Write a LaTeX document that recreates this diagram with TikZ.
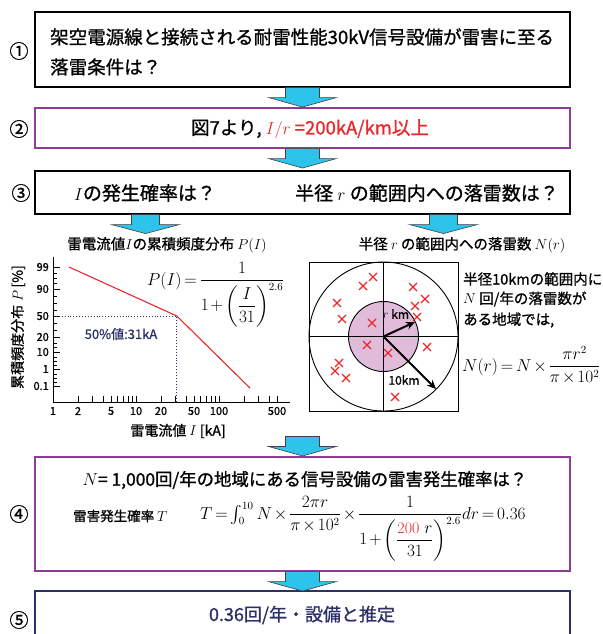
\documentclass[tikz,border=0pt]{standalone}
\usepackage{amsmath}
\usepackage{fontspec}
\newfontfamily\jp[FakeBold=1]{Noto Sans CJK JP}
\usetikzlibrary{calc,arrows.meta}
\definecolor{arrowblue}{HTML}{2EC3EA}
\definecolor{boxpurple}{HTML}{8E3C97}
\definecolor{navyc}{HTML}{2B3068}
\definecolor{redl}{HTML}{E8282B}
\definecolor{pinkf}{HTML}{E0BCDA}
\newcommand{\tightmath}{\medmuskip=2mu plus 1mu\thickmuskip=3mu plus 2mu}
\tikzset{
  flowbox/.style={draw, line width=1.1pt, minimum width=535pt, inner sep=0pt},
  jt/.style={font=\jp\fontsize{#1}{#1}\selectfont, inner sep=0pt},
  mt/.style={font=\fontsize{#1}{#1}\selectfont\tightmath, inner sep=0pt},
  pics/barrow/.style={code={\draw[fill=arrowblue, draw=black!75, line width=0.6pt] (-17,0) -- (17,0) -- (17,10) -- (34,10) -- (0,19.5) -- (-34,10) -- (-17,10) -- cycle;}},
  pics/sarrow/.style={code={\draw[fill=arrowblue, draw=black!75, line width=0.6pt] (-14,0) -- (14,0) -- (14,10) -- (34,10) -- (0,19) -- (-34,10) -- (-14,10) -- cycle;}},
  pics/xmark/.style={code={\draw[redl, line width=1.2pt] (-4,-4) -- (4,4) (-4,4) -- (4,-4);}},
  axisline/.style={line width=0.9pt},
  tickline/.style={line width=0.7pt},
}
\begin{document}
\begin{tikzpicture}[x=1pt,y=-1pt]
\useasboundingbox (0,0) rectangle (602,634);
% ---- boxes
\node[flowbox, minimum height=75pt] (b1) at (302.5,49.5) {};
\node[flowbox, draw=boxpurple, minimum height=40pt] (b2) at (302.5,128) {};
\node[flowbox, minimum height=43pt] (b3) at (302.5,192.5) {};
\node[flowbox, draw=boxpurple, minimum height=114pt] (b4) at (302.5,514) {};
\node[flowbox, draw=navyc, line width=2pt, minimum height=60pt] (b5) at (302.5,621) {};
% ---- block arrows
\pic at (b1.south) {barrow};
\pic at (b2.south) {barrow};
\pic at ($(b3.south west)+(111,0)$) {sarrow};
\pic at ($(b3.south west)+(409,0)$) {sarrow};
\pic at ($(b4.north)+(0,-20)$) {barrow};
\pic at (b4.south) {barrow};
% ---- step numbers
\node[jt=19] (n1) at (19,51) {①};
\node[jt=19] (n2) at (19,129) {②};
\node[jt=19] (n3) at (21,193) {③};
\node[jt=19] (n4) at (19,514) {④};
\node[jt=19] (n5) at (19,620) {⑤};
% ---- box texts
\node[jt=18.5, anchor=base west] (t1a) at (50,44) {架空電源線と接続される耐雷性能30kV信号設備が雷害に至る};
\node[jt=18.5, anchor=base west] (t1b) at (50,74) {落雷条件は？};
\node[jt=18.5] (t2) at (310,129) {図7より, \textcolor{redl}{$I/r$ =200kA/km以上}};
\node[jt=19] (t3a) at (145,193) {$I$の発生確率は？};
\node[jt=19] (t3b) at (427,193) {半径 $r$ の範囲内への落雷数は？};
\node[jt=17.4] (t4) at (305,480) {$N$= 1,000回/年の地域にある信号設備の雷害発生確率は？};
\node[jt=13.5, anchor=west] (t4b) at (73,516) {雷害発生確率 $T$};
\node[mt=16, anchor=base west] (tf) at (200,519) {$T=\int_0^{10}N\times\dfrac{2\pi r}{\pi\times10^2}\times\dfrac{1}{1+\left(\dfrac{\textcolor{redl}{\mathrm{200}}\ r}{31}\right)^{2.6}}dr=0.36$};
\node[jt=18, text=navyc] (t5) at (302,615) {0.36回/年・設備と推定};
% ---- subtitles
\node[jt=14.5] (s1) at (167,245) {雷電流値$I$の累積頻度分布 $P(I)$};
\node[jt=14.5] (s2) at (462,245) {半径 $r$ の範囲内への落雷数 $N(r)$};
% ---- chart (left)
\draw[axisline] (53,257) -- (53,402) -- (290,402);
\foreach \yy in {267,289,316,337,352,369,386} \draw[tickline] (53,\yy) -- (60,\yy);
\foreach \yy in {273,278,283,296,303,310,323,330,343,347,357,361,365,374,378,382} \draw[tickline] (53,\yy) -- (57,\yy);
\foreach \v/\yy in {99/267,90/289,50/316,20/337,10/352,1/369,0.1/386}
  \node[jt=11, anchor=east] (yl\v) at (49,\yy) {\v};
\foreach \i in {2,3,4,5,6,7,8,9,10,20,30,40,50,60,70,80,90,100,200,300,400,500}
  \draw[tickline] ({53+83*log10(\i)},402) -- ({53+83*log10(\i)},396);
\foreach \i in {1,2,5,10,20,50,100,500}
  \node[jt=11] (xl\i) at ({53+83*log10(\i)},411) {\i};
\node[jt=14, rotate=90] (ya) at (18,327) {累積頻度分布 $P$ [\%]};
\node[jt=14] (xa) at (178,431) {雷電流値 $I$ [kA]};
\draw[navyc, dotted, line width=0.9pt] (53,316) -- (176.8,316) -- (176.8,402);
\draw[redl, line width=1.1pt] (69,267) -- (176.8,316) -- (250,388);
\node[jt=13, text=navyc] (fifty) at (121,334) {50\%値:31kA};
\node[mt=16, anchor=base west] (pf) at (147,285) {$P(I)=\dfrac{1}{1+\left(\dfrac{I}{31}\right)^{2.6}}$};
% ---- circle panel (right)
\draw[line width=0.9pt] (309,262) rectangle (458,411);
\draw[line width=0.9pt] (383.5,336.5) circle[radius=74.5];
\draw[line width=0.9pt, fill=pinkf] (383.5,336.5) circle[radius=35];
\draw[line width=0.9pt] (383.5,262) -- (383.5,411) (309,336.5) -- (458,336.5);
\foreach \px/\py in {373/277,363/286,413/287,425/299,415/306,337/303,342/319,417/317,372/323,367/345,388/353,427/347,339/363,335/371,346/378,395/397}
  \pic at (\px,\py) {xmark};
\coordinate (cc) at (383.5,336.5);
\coordinate (ra) at (415,322);
\coordinate (rb) at (436,389);
\draw[line width=2pt, -{Stealth[length=9pt,width=8pt]}] (cc) -- (ra);
\draw[line width=2pt, -{Stealth[length=9pt,width=8pt]}] (cc) -- (rb);
\node[jt=12] (rkm) at (396,314) {$r$ km};
\node[jt=12] (tenkm) at (404,380) {10km};
\node[jt=14.5, anchor=west] (r1) at (463,279) {半径10kmの範囲内に};
\node[jt=14.5, anchor=west] (r2) at (463,299) {$N$ 回/年の落雷数が};
\node[jt=14.5, anchor=west] (r3) at (463,320) {ある地域では,};
\node[mt=16, anchor=base west] (nf) at (462,371) {$N(r)=N\times\dfrac{\pi r^2}{\pi\times10^2}$};
\end{tikzpicture}
\end{document}
